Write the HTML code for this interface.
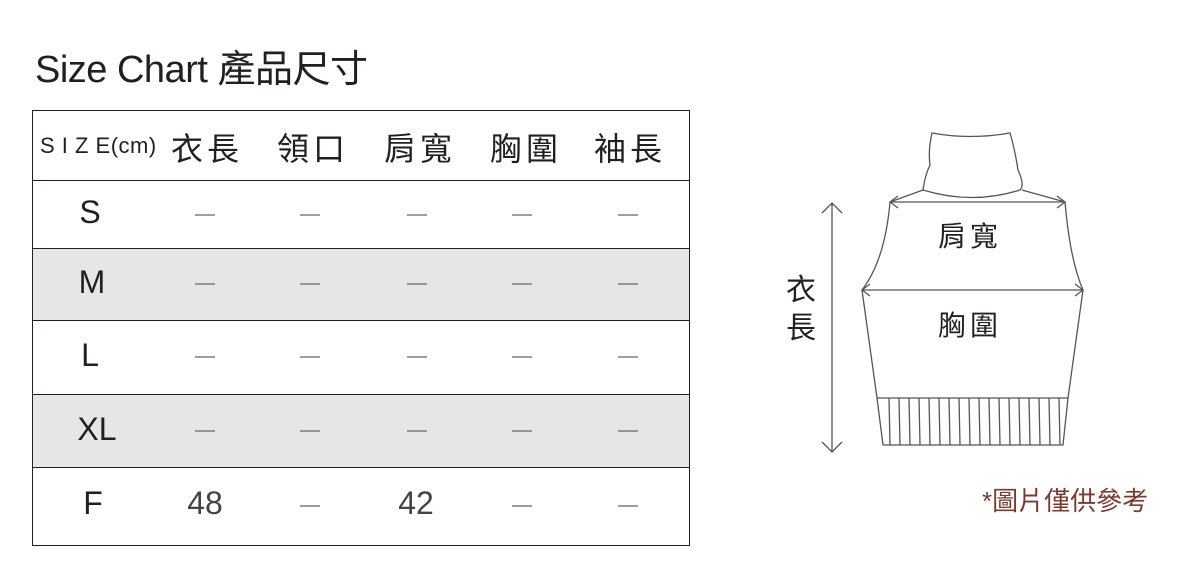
<!DOCTYPE html>
<html><head><meta charset="utf-8"><style>
body{margin:0;width:1200px;height:578px;background:#fff;position:relative;overflow:hidden;font-family:"Liberation Sans","Noto Sans CJK TC",sans-serif;color:#231f20}
.t{position:absolute;white-space:nowrap}
.row{position:absolute;left:33px;width:656px;border-top:1.5px solid #231f20}
.c{position:absolute;transform:translateX(-50%);color:#444;font-size:32px}
.h{position:absolute;transform:translateX(-50%);top:124px;font-size:32px;letter-spacing:4px;white-space:nowrap}
</style></head><body>
<div class="t" style="left:35px;top:38px;font-size:38px;letter-spacing:-0.5px">Size Chart 產品尺寸</div>
<div class="row" style="top:248px;height:72px;background:#e6e6e6"></div>
<div class="row" style="top:394px;height:73px;background:#e6e6e6"></div>
<div class="row" style="top:180px;height:0"></div>
<div class="row" style="top:320px;height:0"></div>
<div class="row" style="top:467px;height:0"></div>
<div style="position:absolute;left:32px;top:110px;width:656px;height:434px;border:1.5px solid #231f20"></div>
<div class="t" style="left:40px;top:133px;font-size:22px;letter-spacing:0.5px">S I Z E(cm)</div>
<div class="h" style="left:207px">衣長</div>
<div class="h" style="left:313px">領口</div>
<div class="h" style="left:420px">肩寬</div>
<div class="h" style="left:526px">胸圍</div>
<div class="h" style="left:630px">袖長</div>
<div class="c" style="left:90px;top:194px;color:#231f20;font-size:32px">S</div>
<div class="c" style="left:92px;top:264px;color:#231f20;font-size:32px">M</div>
<div class="c" style="left:90px;top:337px;color:#231f20;font-size:32px">L</div>
<div class="c" style="left:97px;top:411px;color:#231f20;font-size:32px">XL</div>
<div class="c" style="left:93px;top:485px;color:#231f20;font-size:32px">F</div>
<svg style="position:absolute;left:0;top:0" width="1200" height="578">
<g stroke="#666" stroke-width="1.2">
<line x1="195" y1="215" x2="215" y2="215"/><line x1="300" y1="215" x2="320" y2="215"/><line x1="407" y1="215" x2="427" y2="215"/><line x1="512" y1="215" x2="532" y2="215"/><line x1="618" y1="215" x2="638" y2="215"/>
<line x1="195" y1="284" x2="215" y2="284"/><line x1="300" y1="284" x2="320" y2="284"/><line x1="407" y1="284" x2="427" y2="284"/><line x1="512" y1="284" x2="532" y2="284"/><line x1="618" y1="284" x2="638" y2="284"/>
<line x1="195" y1="357" x2="215" y2="357"/><line x1="300" y1="357" x2="320" y2="357"/><line x1="407" y1="357" x2="427" y2="357"/><line x1="512" y1="357" x2="532" y2="357"/><line x1="618" y1="357" x2="638" y2="357"/>
<line x1="195" y1="431" x2="215" y2="431"/><line x1="300" y1="431" x2="320" y2="431"/><line x1="407" y1="431" x2="427" y2="431"/><line x1="512" y1="431" x2="532" y2="431"/><line x1="618" y1="431" x2="638" y2="431"/>
<line x1="300" y1="506" x2="320" y2="506"/><line x1="512" y1="506" x2="532" y2="506"/><line x1="618" y1="506" x2="638" y2="506"/>
</g>
<g fill="none" stroke="#555" stroke-width="1.3">
<path d="M932 133 Q970 140 1010 133 Q1015 150 1018 170 Q1025 185 1020 190 Q972 205 923 190 Q925 175 930 165 Q928 150 932 133Z"/>
<path d="M923 190 L890 202 Q885 260 862 290 L877 398 L883 445 L1063 445 L1068 398 L1083 290 Q1070 260 1065 202 L1022 190"/>
<line x1="877" y1="398" x2="1068" y2="398"/>
<line x1="890" y1="202" x2="1065" y2="202"/><path d="M898 196 L890 202 L898 208 M1057 196 L1065 202 L1057 208"/>
<line x1="862" y1="290" x2="1083" y2="290"/><path d="M870 284 L862 290 L870 296 M1075 284 L1083 290 L1075 296"/>
<line x1="832" y1="203" x2="832" y2="452"/><path d="M822 213 L832 203 L842 213 M822 442 L832 452 L842 442"/>
<path d="M889 398 l1 47 M899 398 l1 47 M909 398 l1 47 M919 398 l1 47 M929 398 l1 47 M939 398 l1 47 M949 398 l1 47 M959 398 l1 47 M969 398 l1 47 M979 398 l1 47 M989 398 l1 47 M999 398 l1 47 M1009 398 l1 47 M1019 398 l1 47 M1029 398 l1 47 M1039 398 l1 47 M1049 398 l1 47 M1059 398 l1 47"/>
</g>
</svg>
<div class="c" style="left:205px;top:485px">48</div>
<div class="c" style="left:416px;top:485px">42</div>
<div class="t" style="left:938px;top:215px;font-size:28px;letter-spacing:4px">肩寬</div>
<div class="t" style="left:938px;top:304px;font-size:28px;letter-spacing:4px">胸圍</div>
<div class="t" style="left:786px;top:272px;font-size:30px;line-height:38px;width:32px;white-space:normal">衣長</div>
<div class="t" style="left:982px;top:481px;font-size:26px;color:#7a3a2e">*圖片僅供參考</div>
</body></html>
